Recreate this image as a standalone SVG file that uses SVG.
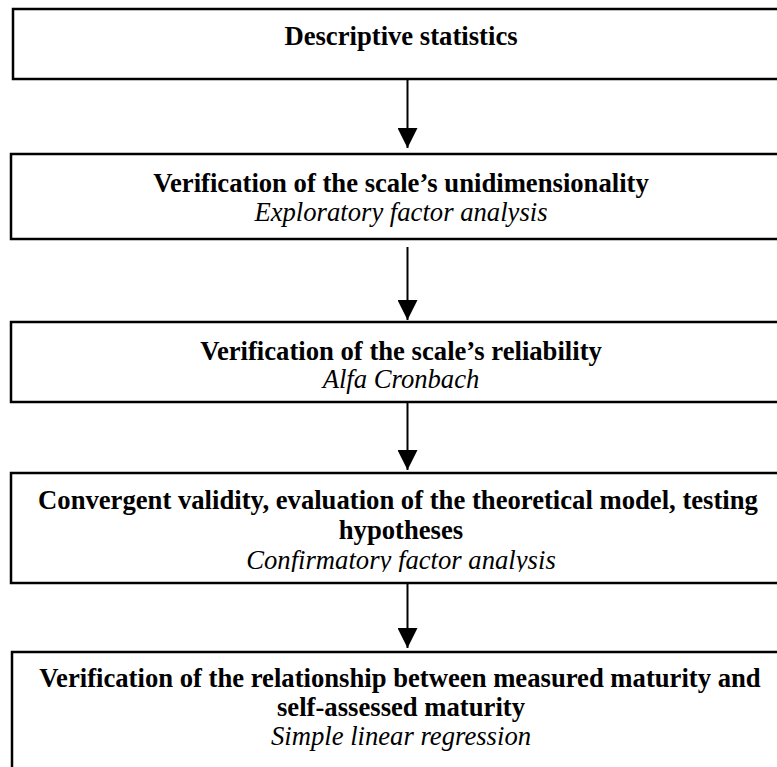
<svg xmlns="http://www.w3.org/2000/svg" width="777" height="767" viewBox="0 0 777 767">
<defs>
<marker id="ah" markerWidth="20" markerHeight="20" refX="20" refY="10" orient="auto" markerUnits="userSpaceOnUse">
<path d="M0,0 L20,10 L0,20 Z" fill="#000"/>
</marker>
<clipPath id="clip4"><rect x="11" y="473" width="800" height="99"/></clipPath>
<style>
.box{fill:#fff;stroke:#000;stroke-width:2.5}
.t{font-family:"Liberation Serif","Times New Roman",serif;font-size:26.67px;font-weight:bold;text-anchor:middle;fill:#000}
.i{font-family:"Liberation Serif","Times New Roman",serif;font-size:26.67px;font-style:italic;text-anchor:middle;fill:#000}
.c{stroke:#000;stroke-width:2;fill:none}
</style>
</defs>
<rect width="777" height="767" fill="#fff"/>
<g id="connectors">
<line class="c" x1="407.5" y1="79" x2="407.5" y2="148" marker-end="url(#ah)"/>
<line class="c" x1="407.5" y1="247" x2="407.5" y2="320" marker-end="url(#ah)"/>
<line class="c" x1="407.5" y1="402" x2="407.5" y2="470" marker-end="url(#ah)"/>
<line class="c" x1="407.5" y1="583" x2="407.5" y2="648" marker-end="url(#ah)"/>
</g>
<g id="node1">
<rect class="box" x="13" y="9" width="800" height="70"/>
<text class="t" x="401" y="45">Descriptive statistics</text>
</g>
<g id="node2">
<rect class="box" x="11" y="154" width="800" height="85"/>
<text class="t" x="401" y="192">Verification of the scale’s unidimensionality</text>
<text class="i" x="401" y="221">Exploratory factor analysis</text>
</g>
<g id="node3">
<rect class="box" x="11" y="322" width="800" height="80"/>
<text class="t" x="401" y="360">Verification of the scale’s reliability</text>
<text class="i" x="401" y="388">Alfa Cronbach</text>
</g>
<g id="node4">
<rect class="box" x="11" y="473" width="800" height="110"/>
<text class="t" x="398" y="509">Convergent validity, evaluation of the theoretical model, testing</text>
<text class="t" x="401" y="539">hypotheses</text>
<text class="i" x="401" y="569" clip-path="url(#clip4)">Confirmatory factor analysis</text>
</g>
<g id="node5">
<rect class="box" x="12" y="652" width="800" height="200"/>
<text class="t" x="400" y="687">Verification of the relationship between measured maturity and</text>
<text class="t" x="401" y="716">self-assessed maturity</text>
<text class="i" x="401" y="745">Simple linear regression</text>
</g>
</svg>
